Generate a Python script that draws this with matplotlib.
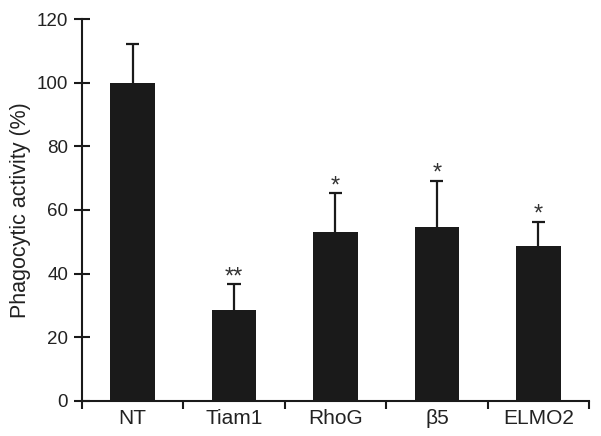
import numpy as np
import matplotlib.pyplot as plt

plt.rcParams['font.family'] = ['Liberation Sans', 'DejaVu Sans']

groups = ["NT", "Tiam1", "RhoG", "β5", "ELMO2"]
activity = [100, 28.6, 53.2, 54.6, 48.6]
errors = [12, 8, 12, 14.6, 7.6]
marks = ["", "**", "*", "*", "*"]

fig = plt.figure(figsize=(6.01, 4.36), dpi=100)
ax = fig.add_axes([0.1364, 0.0803, 0.8436, 0.8761])

x = np.arange(len(groups))
tops = np.array(activity) + np.array(errors)
ax.bar(x, activity, width=0.44, color="#1a1a1a", zorder=2)
# upward-only error bars with a cap
ax.vlines(x, activity, tops, color="#1a1a1a", linewidth=1.6, zorder=1)
ax.hlines(tops, x - 0.065, x + 0.065, color="#1a1a1a", linewidth=1.6, zorder=1)

for xi, t, m in zip(x, tops, marks):
    if m:
        ax.annotate(m, (xi, t), xytext=(0, 1), textcoords="offset points",
                    ha="center", va="baseline", fontsize=17, color="#333333")

ax.set_xlim(-0.5, 4.5)
ax.set_ylim(0, 120)
ax.set_yticks(np.arange(0, 121, 20))
ax.set_xticks(np.arange(-0.5, 4.6, 1), minor=False)
ax.set_xticklabels([])
ax.set_xticks(x, minor=True)
ax.set_xticklabels(groups, minor=True)
ax.tick_params(axis="x", which="minor", length=0, labelsize=15, pad=6, colors="#222222")
ax.tick_params(axis="x", which="major", direction="out", length=6, width=1.5, color="#1a1a1a")
ax.tick_params(axis="y", direction="inout", length=12, width=1.5, labelsize=13.5, pad=4,
               color="#1a1a1a", labelcolor="#222222")

for s in ["top", "right"]:
    ax.spines[s].set_visible(False)
for s in ["left", "bottom"]:
    ax.spines[s].set_linewidth(1.5)
    ax.spines[s].set_color("#1a1a1a")

ax.set_ylabel("Phagocytic activity (%)", fontsize=15.5, color="#222222", labelpad=4)

fig.savefig("out.png", dpi=100)
